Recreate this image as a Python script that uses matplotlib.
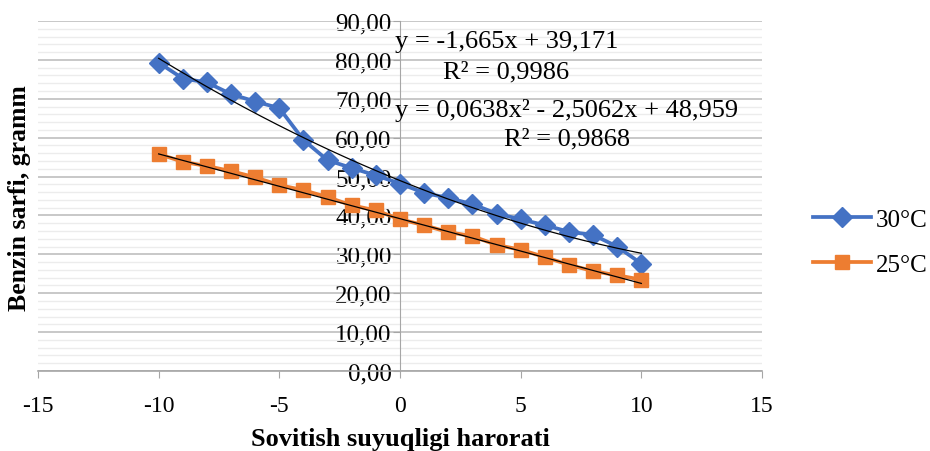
import numpy as np
import matplotlib
matplotlib.use("Agg")
import matplotlib.pyplot as plt
from matplotlib.ticker import MultipleLocator, FuncFormatter

plt.rcParams['font.family'] = ['Liberation Serif', 'DejaVu Serif']

x_vals = list(range(-10, 11))
s30 = [79.3, 75.2, 74.2, 71.2, 69.3, 67.6, 59.4, 54.2, 52.2, 50.3, 48.2,
       45.8, 44.5, 42.9, 40.5, 39.0, 37.5, 35.8, 35.0, 32.0, 27.6]
s25 = [55.8, 53.8, 52.7, 51.4, 49.8, 47.8, 46.5, 44.7, 42.6, 41.3, 39.0,
       37.5, 35.7, 34.7, 32.4, 31.2, 29.3, 27.3, 25.7, 24.6, 23.5]
series_names = ["30°C", "25°C"]
# trendline coefficients as printed on the chart (highest power first)
quad_30 = [0.0638, -2.5062, 48.959]
lin_25 = [-1.665, 39.171]
eq_texts = ["y = -1,665x + 39,171", "R² = 0,9986",
            "y = 0,0638x² - 2,5062x + 48,959", "R² = 0,9868"]
xlabel = "Sovitish suyuqligi harorati"
ylabel = "Benzin sarfi, gramm"

fig = plt.figure(figsize=(9.3, 4.52), dpi=100)
ax = fig.add_axes([38/930, 1 - 372/452, (762-38)/930, (372-22)/452])
ax.set_xlim(-15, 15)
ax.set_ylim(0, 90)

ax.yaxis.set_major_locator(MultipleLocator(10))
ax.yaxis.set_minor_locator(MultipleLocator(2))
ax.xaxis.set_major_locator(MultipleLocator(5))
ax.grid(which='major', axis='y', color='#BFBFBF', lw=1.2)
ax.grid(which='minor', axis='y', color='#ECECEC', lw=1.0)
ax.set_axisbelow(True)

for s in ['top', 'right']:
    ax.spines[s].set_visible(False)
ax.spines['left'].set_position(('data', 0))
ax.spines['left'].set_color('#A6A6A6')
ax.spines['bottom'].set_color('#A6A6A6')
ax.spines['bottom'].set_linewidth(1.2)
ax.tick_params(axis='y', which='major', direction='out', length=5, color='#A6A6A6',
               labelsize=18, pad=1)
ax.tick_params(axis='y', which='minor', length=0)
ax.tick_params(axis='x', direction='out', length=5, color='#A6A6A6', labelsize=17, pad=12)
ax.yaxis.set_major_formatter(FuncFormatter(lambda v, p: f"{v:.2f}".replace('.', ',')))
ax.xaxis.set_major_formatter(FuncFormatter(lambda v, p: f"{v:.0f}"))

x = np.array(x_vals)
ax.plot(x, s30, color='#4472C4', lw=2.7, marker='D', ms=10, label=series_names[0], zorder=3)
ax.plot(x, s25, color='#ED7D31', lw=2.7, marker='s', ms=10.5, label=series_names[1], zorder=3)

xt = np.linspace(-10, 10, 200)
ax.plot(xt, np.polyval(quad_30, xt), color='black', lw=0.9, zorder=4)
ax.plot(xt, np.polyval(lin_25, xt), color='black', lw=0.9, zorder=4)

def fx(px):
    return px / 930
def fy(py):
    return 1 - py / 452

fig.text(fx(395), fy(42), eq_texts[0], fontsize=19, va='center', ha='left')
fig.text(fx(506), fy(72), eq_texts[1], fontsize=19, va='center', ha='center')
fig.text(fx(395), fy(110), eq_texts[2], fontsize=19, va='center', ha='left')
fig.text(fx(567), fy(139), eq_texts[3], fontsize=19, va='center', ha='center')

fig.text(fx(400), fy(440), xlabel, fontsize=19, fontweight='bold', ha='center', va='center')
fig.text(fx(20), fy(198), ylabel, fontsize=18.5, fontweight='bold', ha='center', va='center',
         rotation=90)

leg = fig.legend(loc='center left', bbox_to_anchor=(fx(813), fy(243)), frameon=False,
                 fontsize=18, handlelength=2.3, labelspacing=0.9, handletextpad=0.2,
                 borderaxespad=0, borderpad=0)

fig.savefig("out.png", dpi=100)
